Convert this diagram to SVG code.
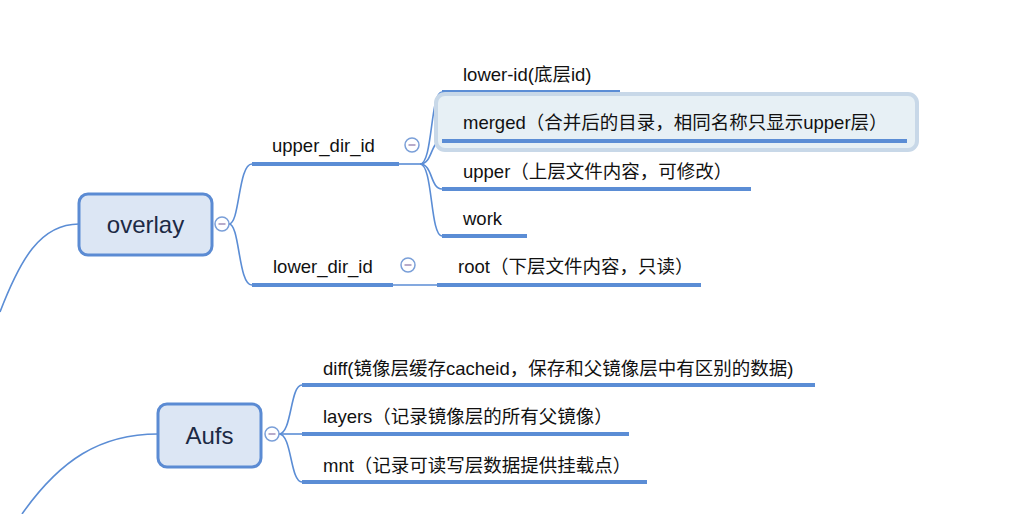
<svg xmlns="http://www.w3.org/2000/svg" width="1034" height="514" viewBox="0 0 1034 514">
<style>
.bg{fill:#ffffff}
.conn{fill:none;stroke:#5b8dd5;stroke-width:1.6}
.ul{stroke:#5b8dd5;stroke-width:4;stroke-linecap:butt}
.main{fill:#dce6f4;stroke:#5b8bd3;stroke-width:3}
.mt{font-family:"Liberation Sans","Noto Sans CJK SC",sans-serif;font-size:24px;fill:#1c2a45;text-anchor:middle}
.st{font-family:"Liberation Sans","Noto Sans CJK SC",sans-serif;font-size:18.5px;fill:#111111}
.col circle{fill:#ffffff;stroke:#7a9fd8;stroke-width:1.5}
.col line{stroke:#a08fb8;stroke-width:1.5}
.sel{fill:#e7f0f5;stroke:#c8d8e8;stroke-width:4}
</style>
<defs>
<g id="minus" class="col"><circle cx="0" cy="0" r="7"/><line x1="-3.5" y1="0" x2="3.5" y2="0"/></g>
</defs>
<rect class="bg" x="0" y="0" width="1034" height="514"/>

<g id="connectors">
<path class="conn" d="M79,224 C40,224 20,260 0,312"/>
<path class="conn" d="M158,434 C100,434 60,460 22,514"/>
<path class="conn" d="M229,224 C240,224 238,164 252,164"/>
<path class="conn" d="M229,224 C240,224 238,285 252,285"/>
<path class="conn" d="M399,164 L420,164"/>
<path class="conn" d="M420,164 C433,164 430,92 442,92"/>
<path class="conn" d="M420,164 C433,164 430,141 442,141"/>
<path class="conn" d="M420,164 C433,164 430,189 442,189"/>
<path class="conn" d="M420,164 C433,164 430,236 442,236"/>
<path class="conn" d="M393,285 L437,285"/>
<path class="conn" d="M279,434 C292,434 290,385 302,385"/>
<path class="conn" d="M279,434 L302,434"/>
<path class="conn" d="M279,434 C292,434 290,482 302,482"/>
</g>

<g id="node-overlay">
<rect class="main" x="79" y="194" width="133" height="61" rx="9"/>
<text class="mt" x="145.5" y="233">overlay</text>
<use href="#minus" x="222" y="224"/>
</g>

<g id="node-upper_dir_id">
<line class="ul" x1="252" y1="164" x2="399" y2="164"/>
<text class="st" x="272" y="152">upper_dir_id</text>
<use href="#minus" x="412" y="145"/>
</g>

<g id="node-lower-id">
<line class="ul" x1="442" y1="92" x2="620" y2="92"/>
<text class="st" x="463" y="81">lower-id(底层id)</text>
</g>

<g id="node-merged">
<rect class="sel" x="436" y="94" width="481" height="56" rx="9"/>
<line class="ul" x1="442" y1="141" x2="907" y2="141"/>
<text class="st" x="463" y="129">merged（合并后的目录，相同名称只显示upper层）</text>
</g>

<g id="node-upper">
<line class="ul" x1="442" y1="189" x2="751" y2="189"/>
<text class="st" x="463" y="178">upper（上层文件内容，可修改）</text>
</g>

<g id="node-work">
<line class="ul" x1="442" y1="236" x2="527" y2="236"/>
<text class="st" x="463" y="225">work</text>
</g>

<g id="node-lower_dir_id">
<line class="ul" x1="252" y1="285" x2="393" y2="285"/>
<text class="st" x="273" y="273">lower_dir_id</text>
<use href="#minus" x="408" y="265"/>
</g>

<g id="node-root">
<line class="ul" x1="437" y1="285" x2="701" y2="285"/>
<text class="st" x="458" y="273">root（下层文件内容，只读）</text>
</g>

<g id="node-aufs">
<rect class="main" x="158" y="404" width="103" height="63" rx="9"/>
<text class="mt" x="209.5" y="444">Aufs</text>
<use href="#minus" x="272" y="434"/>
</g>

<g id="node-diff">
<line class="ul" x1="302" y1="385" x2="815" y2="385"/>
<text class="st" x="323" y="375">diff(镜像层缓存cacheid，保存和父镜像层中有区别的数据)</text>
</g>

<g id="node-layers">
<line class="ul" x1="302" y1="434" x2="629" y2="434"/>
<text class="st" x="323" y="423">layers（记录镜像层的所有父镜像）</text>
</g>

<g id="node-mnt">
<line class="ul" x1="302" y1="482" x2="647" y2="482"/>
<text class="st" x="323" y="472">mnt（记录可读写层数据提供挂载点）</text>
</g>
</svg>
